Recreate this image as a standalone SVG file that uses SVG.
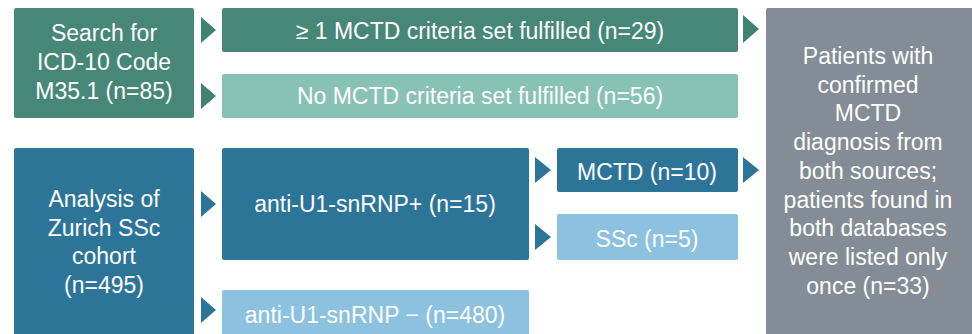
<svg xmlns="http://www.w3.org/2000/svg" width="972" height="334" viewBox="0 0 972 334">
  <style>
    text { font-family: "Liberation Sans", Arial, sans-serif; font-size: 23px; fill: #ffffff; text-anchor: middle; }
    .g-dark { fill: #468777; }
    .g-light { fill: #88c2b5; }
    .b-dark { fill: #2d7499; }
    .b-light { fill: #8cc2df; }
    .grey { fill: #848d95; }
    .arr-g { fill: #3f8272; }
    .arr-b { fill: #2d7499; }
  </style>
  <rect width="972" height="334" fill="#ffffff"/>

  <!-- connectors: triangular pointers between stages -->
  <g id="connectors">
    <polygon class="arr-g" points="201,17 216,30 201,43"/>
    <polygon class="arr-g" points="201,83 216,96 201,109"/>
    <polygon class="arr-g" points="743,15 759,29 743,43"/>
    <polygon class="arr-b" points="201,191 216,204 201,217"/>
    <polygon class="arr-b" points="201,297 216,310 201,323"/>
    <polygon class="arr-b" points="535,157 551,170 535,183"/>
    <polygon class="arr-b" points="535,224 551,237 535,250"/>
    <polygon class="arr-b" points="743,157 759,170 743,183"/>
  </g>

  <g id="search-icd">
    <rect class="g-dark" x="14" y="8" width="180" height="110" rx="2"/>
    <text x="104" y="41">Search for</text>
    <text x="104" y="70">ICD-10 Code</text>
    <text x="104" y="99">M35.1 (n=85)</text>
  </g>

  <g id="criteria-fulfilled">
    <rect class="g-dark" x="222" y="8" width="516" height="44" rx="2"/>
    <text x="480" y="39">≥ 1 MCTD criteria set fulfilled (n=29)</text>
  </g>

  <g id="criteria-not-fulfilled">
    <rect class="g-light" x="222" y="74" width="516" height="44" rx="2"/>
    <text x="480" y="104">No MCTD criteria set fulfilled (n=56)</text>
  </g>

  <g id="zurich-cohort">
    <rect class="b-dark" x="14" y="148" width="180" height="190" rx="2"/>
    <text x="104" y="207">Analysis of</text>
    <text x="104" y="236">Zurich SSc</text>
    <text x="104" y="264">cohort</text>
    <text x="104" y="293">(n=495)</text>
  </g>

  <g id="anti-positive">
    <rect class="b-dark" x="222" y="148" width="307" height="112" rx="2"/>
    <text x="375" y="212">anti-U1-snRNP+ (n=15)</text>
  </g>

  <g id="anti-negative">
    <rect class="b-light" x="222" y="290" width="307" height="48" rx="2"/>
    <text x="375" y="323">anti-U1-snRNP − (n=480)</text>
  </g>

  <g id="mctd">
    <rect class="b-dark" x="557" y="148" width="181" height="44" rx="2"/>
    <text x="647" y="180">MCTD (n=10)</text>
  </g>

  <g id="ssc">
    <rect class="b-light" x="557" y="214" width="181" height="46" rx="2"/>
    <text x="647" y="247">SSc (n=5)</text>
  </g>

  <g id="confirmed-mctd">
    <rect class="grey" x="766" y="8" width="210" height="330" rx="2"/>
    <text x="868" y="64">Patients with</text>
    <text x="868" y="93">confirmed</text>
    <text x="868" y="121">MCTD</text>
    <text x="868" y="150">diagnosis from</text>
    <text x="868" y="179">both sources;</text>
    <text x="868" y="208">patients found in</text>
    <text x="868" y="236">both databases</text>
    <text x="868" y="265">were listed only</text>
    <text x="868" y="294">once (n=33)</text>
  </g>
</svg>
